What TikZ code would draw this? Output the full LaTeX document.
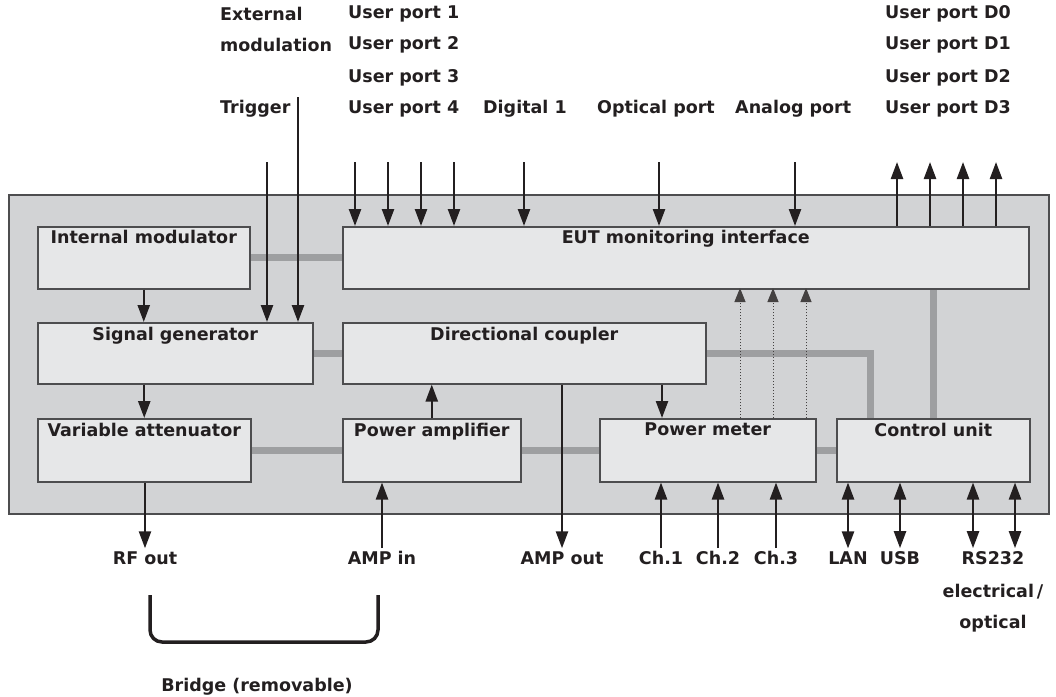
\documentclass[tikz,border=0pt]{standalone}
\usepackage{fontspec}
\setmainfont{DejaVu Sans}
\usetikzlibrary{arrows.meta,calc}
\definecolor{outerg}{HTML}{D2D3D5}
\definecolor{boxg}{HTML}{E6E7E8}
\definecolor{bordg}{HTML}{4D4D4F}
\definecolor{busg}{HTML}{9E9FA1}
\definecolor{ink}{HTML}{231F20}
\pgfdeclarelayer{back}
\pgfdeclarelayer{mid}
\pgfsetlayers{back,mid,main}
\begin{document}
\begin{tikzpicture}[x=1pt,y=-1pt,
  fnt/.style={font=\bfseries\fontsize{17.5}{20}\selectfont},
  blk/.style={draw=bordg, line width=1.5pt, fill=boxg, anchor=north west, inner sep=0pt},
  ttl/.style={label={[anchor=north, yshift=-4.5pt, inner sep=0pt, fnt, text=ink]north:#1}},
  lbl/.style={fnt, text=ink, inner sep=3pt},
  lblw/.style={lbl, anchor=west, inner sep=0pt},
  tip/.tip={Triangle[width=12pt,length=17pt]},
  arr/.style={draw=ink, line width=2.4pt, -tip},
  darr/.style={draw=ink, line width=2.4pt, tip-tip},
  bus/.style={draw=busg, line width=7pt},
  dotarr/.style={draw=ink!85, line width=1pt, dotted, -{Triangle[width=11pt,length=14pt]}}]
\useasboundingbox (0,0) rectangle (1056,696);

% chassis
\begin{pgfonlayer}{back}
\node[draw=bordg, line width=1.5pt, fill=outerg, anchor=north west, inner sep=0pt,
      minimum width=1040pt, minimum height=319pt] (chassis) at (8,194) {};
\end{pgfonlayer}

% blocks
\node[blk, minimum width=212pt, minimum height=62pt, ttl=Internal modulator] (im) at (37,226) {};
\node[blk, minimum width=275pt, minimum height=61pt, ttl=Signal generator] (sg) at (37,322) {};
\node[blk, minimum width=213pt, minimum height=63pt, ttl=Variable attenuator] (va) at (37,418) {};
\node[blk, minimum width=686pt, minimum height=62pt, ttl=EUT monitoring interface] (eut) at (342,226) {};
\node[blk, minimum width=363pt, minimum height=61pt, ttl=Directional coupler] (dc) at (342,322) {};
\node[blk, minimum width=178pt, minimum height=63pt, ttl=Power amplifier] (pa) at (342,418) {};
\node[blk, minimum width=216pt, minimum height=63pt, ttl=Power meter] (pm) at (599,418) {};
\node[blk, minimum width=193pt, minimum height=63pt, ttl=Control unit] (cu) at (836,418) {};

% buses
\begin{pgfonlayer}{mid}
\draw[bus] (im.east) -- (eut.west);
\draw[bus] (sg.east) -- (dc.west);
\draw[bus] (va.east) -- (pa.west);
\draw[bus] (pa.east) -- (pm.west);
\draw[bus] (pm.east) -- (cu.west);
\draw[bus] (dc.east) -| ($(cu.north west)+(34,0)$);
\draw[bus] (eut.south -| cu.north) -- (cu.north);
\end{pgfonlayer}

% top labels
\node[lblw] (extm) at (220,14) {External};
\node[lblw] (extm2) at (220,45) {modulation};
\node[lblw] (trig) at (220,109) {Trigger};
\node[lblw] (up1) at (348,14) {User port 1};
\node[lblw] (up2) at (348,45) {User port 2};
\node[lblw] (up3) at (348,78) {User port 3};
\node[lblw] (up4) at (348,109) {User port 4};
\node[lblw] (dig) at (483,109) {Digital 1};
\node[lblw] (opt) at (597,109) {Optical port};
\node[lblw] (ana) at (735,109) {Analog port};
\node[lblw] (d0) at (885,14) {User port D0};
\node[lblw] (d1) at (885,45) {User port D1};
\node[lblw] (d2) at (885,78) {User port D2};
\node[lblw] (d3) at (885,109) {User port D3};

% top arrow ends
\coordinate (ctrg) at (267,162);
\coordinate (cext) at (298,97);
\coordinate (cu1) at (355,162);
\coordinate (cu2) at (388,162);
\coordinate (cu3) at (421,162);
\coordinate (cu4) at (454,162);
\coordinate (cdig) at (524,162);
\coordinate (copt) at (659,162);
\coordinate (cana) at (795,162);
\coordinate (cd0) at (897,162);
\coordinate (cd1) at (930,162);
\coordinate (cd2) at (963,162);
\coordinate (cd3) at (996,162);

\draw[arr] (ctrg) -- (ctrg |- sg.north);
\draw[arr] (cext) -- (cext |- sg.north);
\foreach \c in {cu1,cu2,cu3,cu4,cdig,copt,cana}
  \draw[arr] (\c) -- (\c |- eut.north);
\foreach \c in {cd0,cd1,cd2,cd3}
  \draw[arr] (\c |- eut.north) -- (\c);

% internal arrows
\draw[arr] (im.south) -- (im.south |- sg.north);
\draw[arr] (sg.south -| va.north) -- (va.north);
\draw[arr] (pa.north) -- (pa.north |- dc.south);
\coordinate (cpm) at (662,0);
\draw[arr] (cpm |- dc.south) -- (cpm |- pm.north);
\foreach \x in {740,773,806}
  \draw[dotarr] (\x,418) -- (\x,288);

% bottom labels
\node[lbl] (rf) at (145,558) {RF out};
\node[lbl] (ampin) at (382,558) {AMP in};
\node[lbl] (ampout) at (562,558) {AMP out};
\node[lbl] (ch1) at (661,558) {Ch.1};
\node[lbl] (ch2) at (718,558) {Ch.2};
\node[lbl] (ch3) at (776,558) {Ch.3};
\node[lbl] (lan) at (848,558) {LAN};
\node[lbl] (usb) at (900,558) {USB};
\node[lbl] (rs) at (993,558) {RS232};
\node[lbl] (elec) at (993,592) {electrical\,/};
\node[lbl] (optl) at (993,624) {optical};
\node[lbl] (bridge) at (257,687) {Bridge (removable)};

\draw[arr] (va.south -| rf.north) -- (rf.north);
\draw[arr] (ampin.north) -- (ampin.north |- pa.south);
\draw[arr] (ampout.north |- dc.south) -- (ampout.north);
\foreach \c in {ch1,ch2,ch3}
  \draw[arr] (\c.north) -- (\c.north |- pm.south);
\draw[darr] (lan.north) -- (lan.north |- cu.south);
\draw[darr] (usb.north) -- (usb.north |- cu.south);
\coordinate (r1) at (973,0);
\coordinate (r2) at (1015,0);
\draw[darr] (r1 |- rs.north) -- (r1 |- cu.south);
\draw[darr] (r2 |- rs.north) -- (r2 |- cu.south);

% bridge
\coordinate (b1) at (150,595);
\coordinate (b2) at (378,595);
\draw[ink, line width=3.5pt, rounded corners=12pt] (b1) -- (150,642) -- (378,642) -- (b2);
\end{tikzpicture}
\end{document}
